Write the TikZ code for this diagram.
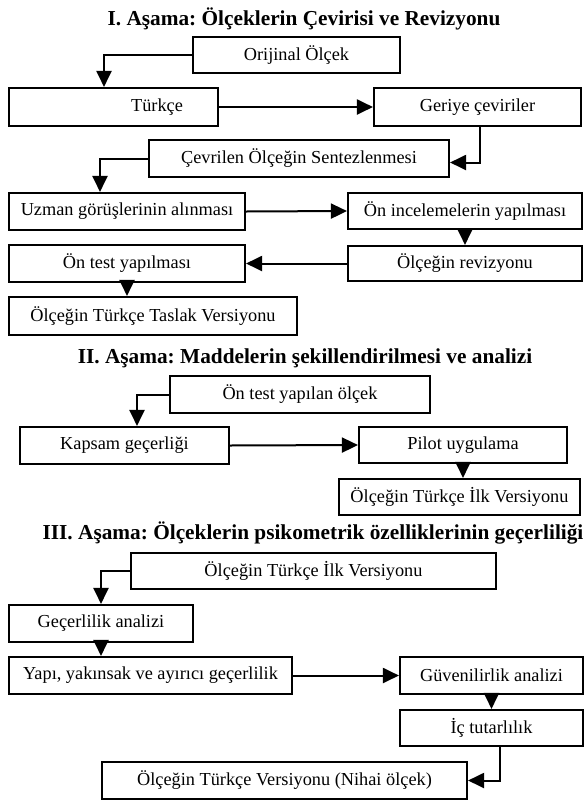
\documentclass[tikz,border=0pt]{standalone}
\usepackage{fontspec}
\setmainfont{Liberation Serif}
\usepackage{tikz}
\usetikzlibrary{arrows.meta}
\frenchspacing

\begin{document}
\begin{tikzpicture}[x=1pt,y=-1pt,
        kutu/.style={draw=black, line width=2.1pt, rectangle, inner sep=0pt,
          font=\fontsize{18.3}{22}\selectfont},
        baslik/.style={anchor=base, inner sep=0pt, font=\fontsize{21.3}{26}\selectfont\bfseries},
        okcizgi/.style={line width=2pt, -{Triangle[length=16pt,width=15pt]}}]
        \useasboundingbox (0,0) rectangle (586,801);

        % I. Asama
        \node[baslik] (b1) at (304,25){I. Aşama: Ölçeklerin Çevirisi ve Revizyonu};
        \node[kutu, minimum width=207, minimum height=36] (orj) at (296.5,55){Orijinal Ölçek};
        \node[kutu, minimum width=209, minimum height=38] (tr) at (113.5,107){\hspace*{87pt}Türkçe};
        \node[kutu, minimum width=207, minimum height=38] (ger) at (477.5,107){Geriye çeviriler};
        \node[kutu, minimum width=300, minimum height=37] (cev) at (299,158.5){Çevrilen Ölçeğin Sentezlenmesi};
        \node[kutu, minimum width=236, minimum height=37] (uz) at (127,211.5){Uzman görüşlerinin alınması};
        \node[kutu, minimum width=234, minimum height=36] (oninc) at (465,211){Ön incelemelerin yapılması};
        \node[kutu, minimum width=234, minimum height=35] (rev) at (465,263.5){Ölçeğin revizyonu};
        \node[kutu, minimum width=236, minimum height=37] (ontest) at (127,263.5){Ön test yapılması};
        \node[kutu, minimum width=288, minimum height=38] (taslak) at (153,316){Ölçeğin Türkçe Taslak Versiyonu};

        \draw[okcizgi] (orj.west) -| ([xshift=-9.5pt]tr.north);
        \draw[okcizgi] (tr.east) -- (ger.west);
        \draw[okcizgi] ([xshift=2.5pt]ger.south) |- ([yshift=-4pt]cev.east);
        \draw[okcizgi] (cev.west) -| ([xshift=-27pt]uz.north);
        \draw[okcizgi] (uz.east) -- (oninc.west);
        \draw[okcizgi] (oninc.south) -- (rev.north);
        \draw[okcizgi] (rev.west) -- (ontest.east);
        \draw[okcizgi] (ontest.south) -- (ontest.south |- taslak.north);

        % II. Asama
        \node[baslik] (b2) at (305,363){II. Aşama: Maddelerin şekillendirilmesi ve analizi};
        \node[kutu, minimum width=260, minimum height=37] (oty) at (300,394.5){Ön test yapılan ölçek};
        \node[kutu, minimum width=209, minimum height=37] (kap) at (124.5,445.5){Kapsam geçerliği};
        \node[kutu, minimum width=208, minimum height=36] (pil) at (463,445){Pilot uygulama};
        \node[kutu, minimum width=241, minimum height=36] (ilk) at (459.5,497){Ölçeğin Türkçe İlk Versiyonu};

        \draw[okcizgi] (oty.west) -| ([xshift=12.5pt]kap.north);
        \draw[okcizgi] (kap.east) -- (pil.west);
        \draw[okcizgi] (pil.south) -- (pil.south |- ilk.north);

        % III. Asama
        \node[baslik] (b3) at (313,539){III. Aşama: Ölçeklerin psikometrik özelliklerinin geçerliliği};
        \node[kutu, minimum width=365, minimum height=36] (ilk3) at (313.5,571){Ölçeğin Türkçe İlk Versiyonu};
        \node[kutu, minimum width=184, minimum height=37] (gec) at (101,623.5){Geçerlilik analizi};
        \node[kutu, minimum width=283, minimum height=37] (yapi) at (150.5,675.5){Yapı, yakınsak ve ayırıcı geçerlilik};
        \node[kutu, minimum width=183, minimum height=37] (guv) at (491.5,675.5){Güvenilirlik analizi};
        \node[kutu, minimum width=183, minimum height=36] (ic) at (491.5,728){İç tutarlılık};
        \node[kutu, minimum width=365, minimum height=37] (nih) at (284.5,780.5){Ölçeğin Türkçe Versiyonu (Nihai ölçek)};

        \draw[okcizgi] (ilk3.west) -| (gec.north);
        \draw[okcizgi] (gec.south) -- (gec.south |- yapi.north);
        \draw[okcizgi] (yapi.east) -- (guv.west);
        \draw[okcizgi] (guv.south) -- (ic.north);
        \draw[okcizgi] ([xshift=8.5pt]ic.south) |- (nih.east);

\end{tikzpicture}
\end{document}
